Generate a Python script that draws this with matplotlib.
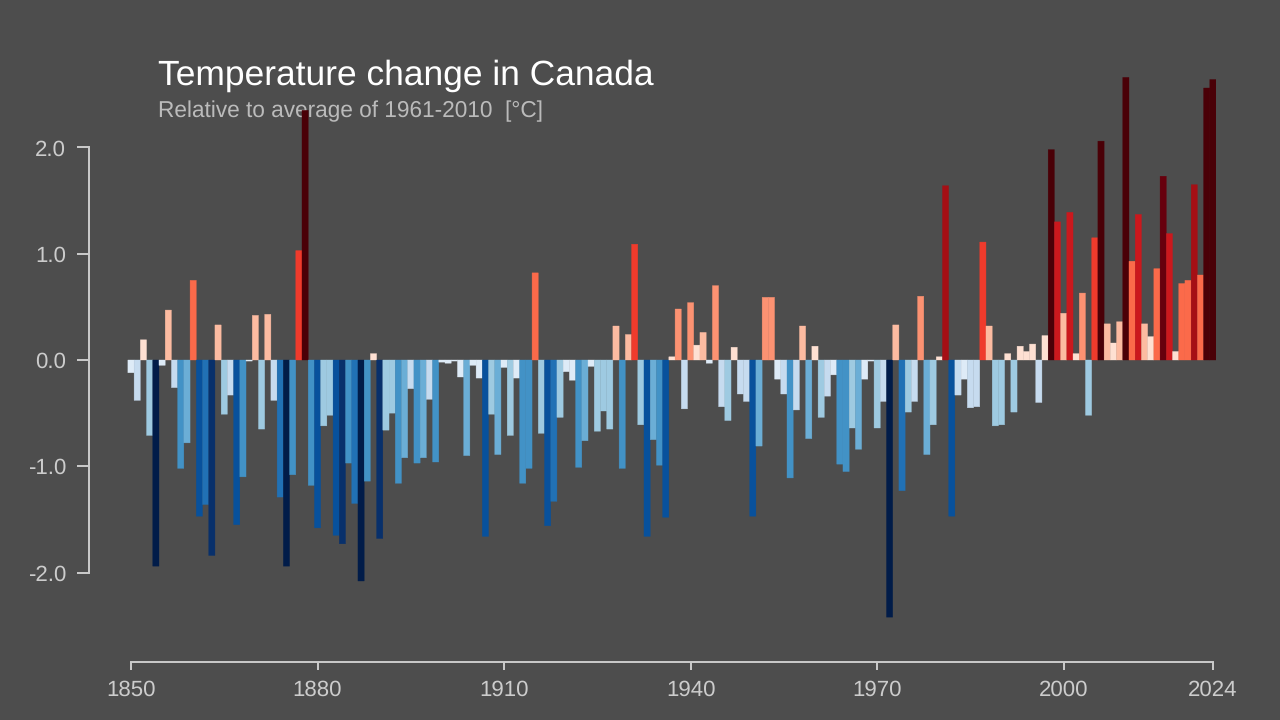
import numpy as np
import matplotlib
matplotlib.use('Agg')
import matplotlib.pyplot as plt
from matplotlib.colors import ListedColormap, BoundaryNorm

# Anomalies 1850-2024, one row per decade-ish
years = np.arange(1850, 2025)
anomaly = [
    -0.12, -0.38, 0.19, -0.71, -1.94, -0.05, 0.47, -0.26, -1.02, -0.78,
    0.75, -1.47, -1.36, -1.84, 0.33, -0.51, -0.33, -1.55, -1.10, -0.01,
    0.42, -0.65, 0.43, -0.38, -1.29, -1.94, -1.08, 1.03, 2.35, -1.18,
    -1.58, -0.62, -0.52, -1.65, -1.73, -0.97, -1.35, -2.08, -1.14, 0.06,
    -1.68, -0.66, -0.50, -1.16, -0.92, -0.27, -0.97, -0.92, -0.37, -0.96,
    -0.02, -0.03, -0.01, -0.16, -0.90, -0.05, -0.17, -1.66, -0.51, -0.89,
    -0.07, -0.71, -0.17, -1.16, -1.02, 0.82, -0.69, -1.56, -1.33, -0.54,
    -0.11, -0.19, -1.01, -0.76, -0.06, -0.67, -0.48, -0.65, 0.32, -1.02,
    0.24, 1.09, -0.61, -1.66, -0.75, -0.99, -1.48, 0.03, 0.48, -0.46,
    0.54, 0.14, 0.26, -0.03, 0.70, -0.44, -0.57, 0.12, -0.32, -0.39,
    -1.47, -0.81, 0.59, 0.59, -0.18, -0.32, -1.11, -0.47, 0.32, -0.74,
    0.13, -0.54, -0.34, -0.14, -0.98, -1.05, -0.64, -0.84, -0.18, -0.01,
    -0.64, -0.39, -2.42, 0.33, -1.23, -0.49, -0.39, 0.60, -0.89, -0.61,
    0.03, 1.64, -1.47, -0.33, -0.18, -0.45, -0.44, 1.11, 0.32, -0.62,
    -0.61, 0.06, -0.49, 0.13, 0.08, 0.15, -0.40, 0.23, 1.98, 1.30,
    0.44, 1.39, 0.06, 0.63, -0.52, 1.15, 2.06, 0.34, 0.16, 0.36,
    2.66, 0.93, 1.37, 0.34, 0.22, 0.86, 1.73, 1.19, 0.08, 0.72,
    0.75, 1.65, 0.80, 2.56, 2.64,
]

xticks = [1850, 1880, 1910, 1940, 1970, 2000, 2024]
yticks = [-2.0, -1.0, 0.0, 1.0, 2.0]

# stripes palette, cold to warm
palette = ['#08306b', '#08519c', '#2171b5', '#4292c6', '#6baed6', '#9ecae1', '#c6dbef', '#deebf7',
           '#fee0d2', '#fcbba1', '#fc9272', '#fb6a4a', '#ef3b2c', '#cb181d', '#a50f15', '#67000d']
step = 0.2375
edges = np.arange(-8, 9) * step

cmap = ListedColormap(palette)
cmap.set_under('#011c49')
cmap.set_over('#4a0007')
norm = BoundaryNorm(edges, cmap.N)

plt.rcParams['font.family'] = ['Liberation Sans', 'DejaVu Sans']
plt.rcParams['text.hinting'] = 'no_hinting'
bg = '#4d4d4d'
fg = '#cccccc'
W, H = 1280, 720

fig = plt.figure(figsize=(W / 100, H / 100), dpi=100, facecolor=bg)

# axes frame in pixels
left, right, top, bottom = 89, 1216, 60, 662
ax = fig.add_axes([left / W, 1 - bottom / H, (right - left) / W, (bottom - top) / H], facecolor='none')

px_year = 6.218
px_unit = 106.25
ax.set_xlim(1850 + (left - 131) / px_year, 1850 + (right - 131) / px_year)
ax.set_ylim((360 - bottom) / px_unit, (360 - top) / px_unit)

# thin edge in the bar colour hides the seams between neighbours
colors = cmap(norm(anomaly))
bars = ax.bar(years, anomaly, width=1.0, color=colors, edgecolor=colors, linewidth=0.25, zorder=3)
for b in bars:
    b.set_snap(False)

for s in ['top', 'right']:
    ax.spines[s].set_visible(False)
ax.spines['left'].set_bounds(-2, 2)
ax.spines['bottom'].set_bounds(1850, 2024)
for s in ['left', 'bottom']:
    ax.spines[s].set_color(fg)
    ax.spines[s].set_linewidth(1.4)

ax.set_xticks(xticks)
ax.set_yticks(yticks)
ax.set_yticklabels([f'{v:.1f}' for v in yticks])
ax.tick_params(axis='x', length=5.8, width=1.4, color=fg, labelcolor=fg, labelsize=16, pad=7)
ax.tick_params(axis='y', length=8.6, width=1.4, color=fg, labelcolor=fg, labelsize=16, pad=8)

# titles sit under the bars
ax.text(158 / W, 1 - 85 / H, 'Temperature change in Canada', transform=fig.transFigure,
        color='white', fontsize=25.5, zorder=1)
ax.text(158 / W, 1 - 117 / H, 'Relative to average of 1961-2010  [°C]', transform=fig.transFigure,
        color='#bbbbbb', fontsize=16.3, zorder=1)

fig.savefig('out.png', dpi=100, facecolor=bg)
